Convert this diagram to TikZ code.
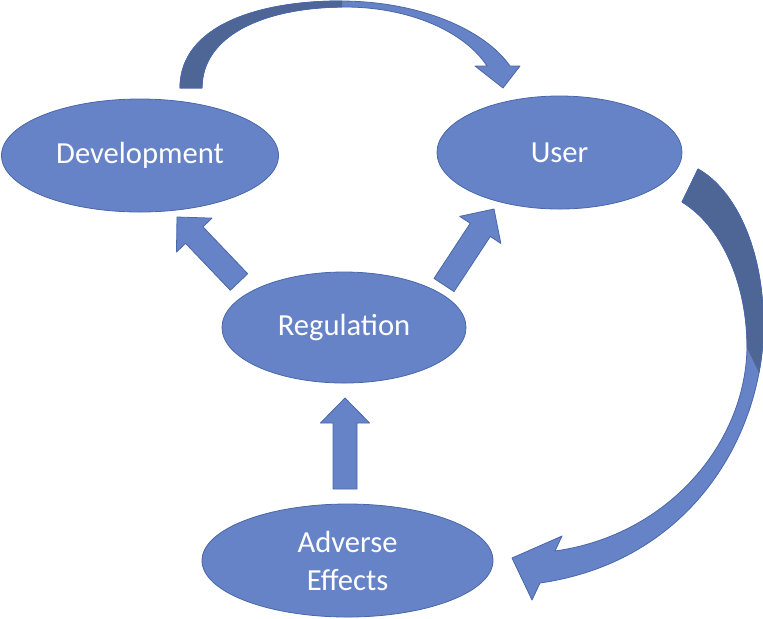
\documentclass[tikz,border=0pt]{standalone}
\usepackage{fontspec}
\setmainfont{Carlito}
\usetikzlibrary{arrows,positioning,shapes,calc}
\definecolor{blobfill}{RGB}{103,131,199}
\definecolor{blobline}{RGB}{74,103,168}
\definecolor{blobdark}{RGB}{78,102,150}
% block arrow from #1 to tip #2
\newcommand{\blockarrow}[2]{%
\coordinate (hb) at ($(#2)!12.5pt!(#1)$);
\draw[blob arrow] ($(#1)!6pt!90:(#2)$) -- ($(hb)!6pt!-90:(#1)$) -- ($(hb)!12.3pt!-90:(#1)$) -- (#2) -- ($(hb)!12.3pt!90:(#1)$) -- ($(hb)!6pt!90:(#1)$) -- ($(#1)!6pt!-90:(#2)$) -- cycle;}
\begin{document}
\begin{tikzpicture}[x=0.5pt,y=-0.5pt,line join=round,main node/.style={ellipse,draw=blobline,fill=blobfill,thin,inner sep=0pt,text=white,font=\fontsize{15.3}{19}\selectfont,align=center},blob arrow/.style={draw=blobline,fill=blobfill,thin}]
\useasboundingbox (0,0) rectangle (763,618);
\begin{scope}
\node[main node,minimum width=138.5pt,minimum height=56.5pt] (dev) at (140,155.5) {Development};
\node[main node,minimum width=122.5pt,minimum height=56.5pt] (user) at (559.5,152.5) {User};
\node[main node,minimum width=122pt,minimum height=55.5pt] (reg) at (344,327.5) {Regulation};
\node[main node,minimum width=145.5pt,minimum height=56.5pt] (adv) at (347.5,560.5) {Adverse\\Effects};
\end{scope}
% straight block arrows
\coordinate (a1) at (345,489);
\coordinate (t1) at (345,398);
\coordinate (a2) at (239,282);
\coordinate (t2) at (177,217);
\coordinate (a3) at (444,285);
\coordinate (t3) at (494,209);
\blockarrow{a1}{t1}
\blockarrow{a2}{t2}
\blockarrow{a3}{t3}
% curved arrow dev -> user
\def\toparrow{(180,88) .. controls (180,25) and (260,1) .. (340,1) .. controls (420,1) and (485,30) .. (510,66) -- (520,66) -- (503,88) -- (475,66) -- (487,66) .. controls (465,32) and (410,7) .. (345,7) .. controls (265,7) and (202,35) .. (202,88) -- cycle}
\draw[blob arrow] \toparrow;
\begin{scope}
\clip (170,-5) rectangle (342,95);
\fill[blobdark] \toparrow;
\draw[blobline,thin] \toparrow;
\end{scope}
% curved arrow user -> adverse
\def\sidearrow{(682,202) -- (698,169) .. controls (735,190) and (760,245) .. (763,310) .. controls (770,420) and (700,560) .. (540,583) -- (532,600) -- (512,558) -- (562,536) -- (555,551) .. controls (670,535) and (748,440) .. (747,343) .. controls (746,280) and (720,225) .. (682,202) -- cycle}
\draw[blob arrow] \sidearrow;
\begin{scope}
\clip (660,150) -- (780,150) -- (780,415) -- (743,340) -- (660,340) -- cycle;
\fill[blobdark] \sidearrow;
\draw[blobline,thin] \sidearrow;
\end{scope}
\end{tikzpicture}
\end{document}
